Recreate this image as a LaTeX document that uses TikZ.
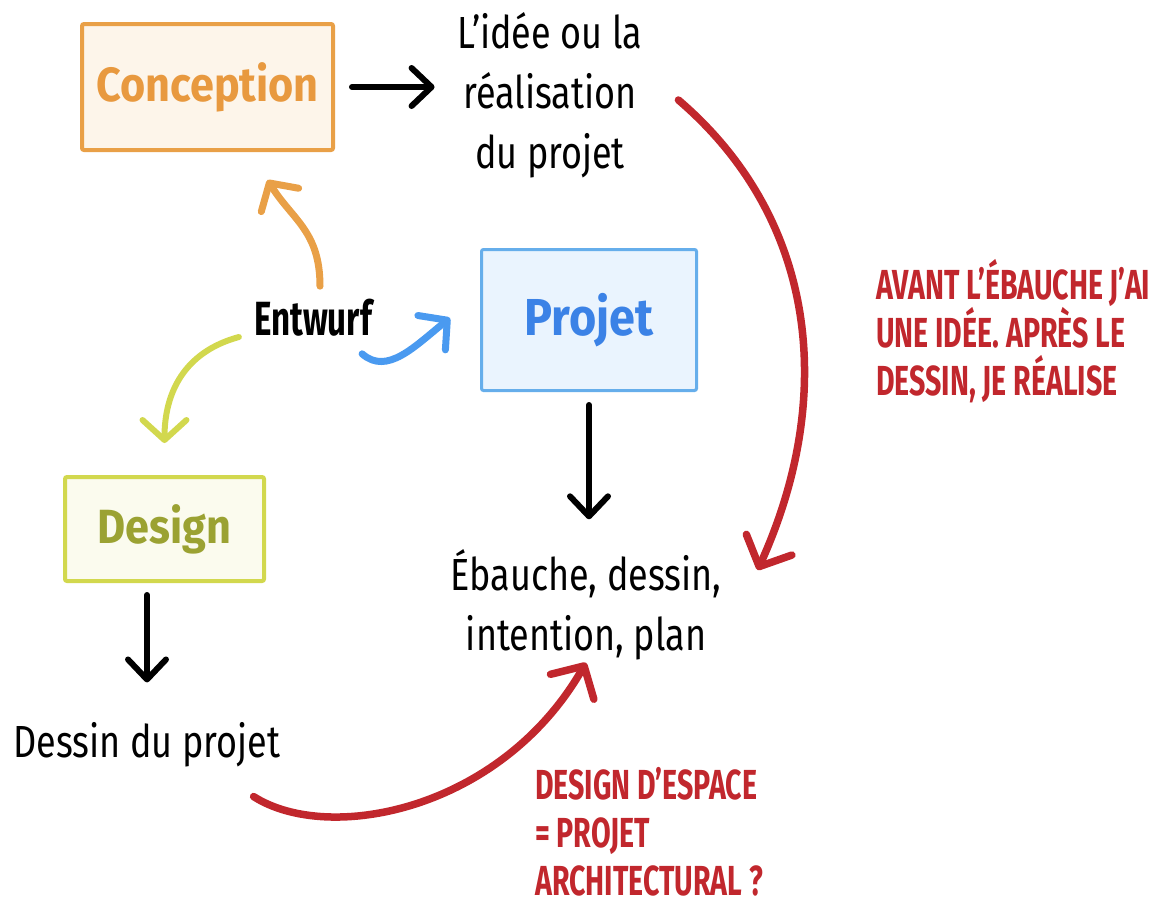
\documentclass[tikz,border=0pt]{standalone}
\usepackage{fontspec}
\setmainfont{Fira Sans}[FakeStretch=0.8]
\newfontfamily\headfont{Fira Sans}[FakeStretch=0.9]
\newfontfamily\keyfont{Fira Sans}[FakeStretch=0.69]
\newfontfamily\notefont{Fira Sans}[FakeStretch=0.68]
\usetikzlibrary{arrows.meta,positioning,calc}
\definecolor{conceptline}{HTML}{E9A047}
\definecolor{conceptfill}{HTML}{FDF5EA}
\definecolor{conceptink}{HTML}{E8993F}
\definecolor{projetline}{HTML}{66AEEB}
\definecolor{projetfill}{HTML}{EAF4FE}
\definecolor{projetink}{HTML}{3B82E6}
\definecolor{projetarrow}{HTML}{4A9AF0}
\definecolor{designline}{HTML}{D2D84E}
\definecolor{designfill}{HTML}{FBFBEE}
\definecolor{designink}{HTML}{9BA232}
\definecolor{remark}{HTML}{C1272D}
\tikzset{
  box/.style={draw, line width=4pt, rounded corners=2pt, inner sep=0pt,
    font=\headfont\bfseries\fontsize{48}{56}\selectfont},
  txt/.style={inner sep=0pt, align=center, font=\fontsize{45}{60}\selectfont},
  note/.style={inner sep=0pt, align=left, text=remark,
    font=\notefont\bfseries\fontsize{42}{48}\selectfont},
  arrow/.style={-{Straight Barb[round, length=20pt, width=38pt]}, line width=6pt, line cap=round},
  curvearrow/.style={-{Straight Barb[round, length=20pt, width=44pt]}, line width=7pt, line cap=round},
  redarrow/.style={curvearrow, remark, line width=7.5pt, -{Straight Barb[round, length=24pt, width=50pt]}},
}
\begin{document}
\begin{tikzpicture}[x=1pt,y=-1pt]
  \useasboundingbox (0,0) rectangle (1160,905);
  % boxes
  \node[box, draw=conceptline, fill=conceptfill, text=conceptink,
    minimum width=251pt, minimum height=126pt] (conception) at (207.5,87) {Conception};
  \node[box, line width=3pt, draw=projetline, fill=projetfill, text=projetink,
    font=\headfont\bfseries\fontsize{52}{60}\selectfont,
    minimum width=215pt, minimum height=141pt] (projet) at (589,320) {Projet};
  \node[box, draw=designline, fill=designfill, text=designink,
    minimum width=199pt, minimum height=104pt] (design) at (164.5,529) {Design};
  % texts
  \node[txt] (idee) at (550,95) {L’idée ou la\\réalisation\\du projet};
  \node[txt, font=\keyfont\bfseries\fontsize{48}{56}\selectfont] (entwurf) at (313,318) {Entwurf};
  \node[txt, text depth=0pt] (ebauche) at (586,600) {Ébauche, dessin,\\intention, plan};
  \node[txt] (dessin) at (147,745) {Dessin du projet};
  \node[note, anchor=west] (avant) at (876,331) {AVANT L’ÉBAUCHE J’AI\\UNE IDÉE. APRÈS LE\\DESSIN, JE RÉALISE};
  \node[note, anchor=west] (espace) at (535,832) {DESIGN D’ESPACE\\= PROJET\\ARCHITECTURAL ?};
  % straight arrows
  \draw[arrow, shorten <=17pt, shorten >=23pt] (conception.east) -- (conception.east -| idee.west);
  \draw[arrow, shorten <=13pt, shorten >=30pt] (projet.south) -- (projet.south |- ebauche.north);
  \draw[arrow, shorten <=12pt, shorten >=40pt] (design.south -| dessin.north) -- (dessin.north);
  % curved arrows
  \draw[curvearrow, conceptline] ([xshift=7pt, yshift=13pt]entwurf.north)
    .. controls +(0,-55) and +(25,40) .. ([xshift=60pt, yshift=-28pt]conception.south);
  \draw[curvearrow, projetarrow] ([xshift=-10pt, yshift=-17pt]entwurf.south east)
    .. controls +(25,22) and +(-35,28) .. ([xshift=-30pt, yshift=2pt]projet.west);
  \draw[curvearrow, designline, line width=6pt] ([xshift=-15pt, yshift=-19pt]entwurf.west)
    .. controls +(-55,15) and +(0,-50) .. ([yshift=32pt]design.north);
  \draw[redarrow] ([xshift=36pt, yshift=-5pt]idee.east)
    .. controls +(140,120) and +(78,-172) .. ([xshift=36pt, yshift=30pt]ebauche.east);
  \draw[redarrow] ([xshift=-27pt, yshift=-29pt]dessin.south east)
    .. controls +(75,48) and +(-85,148) .. ([yshift=-12pt]ebauche.south);
\end{tikzpicture}
\end{document}
